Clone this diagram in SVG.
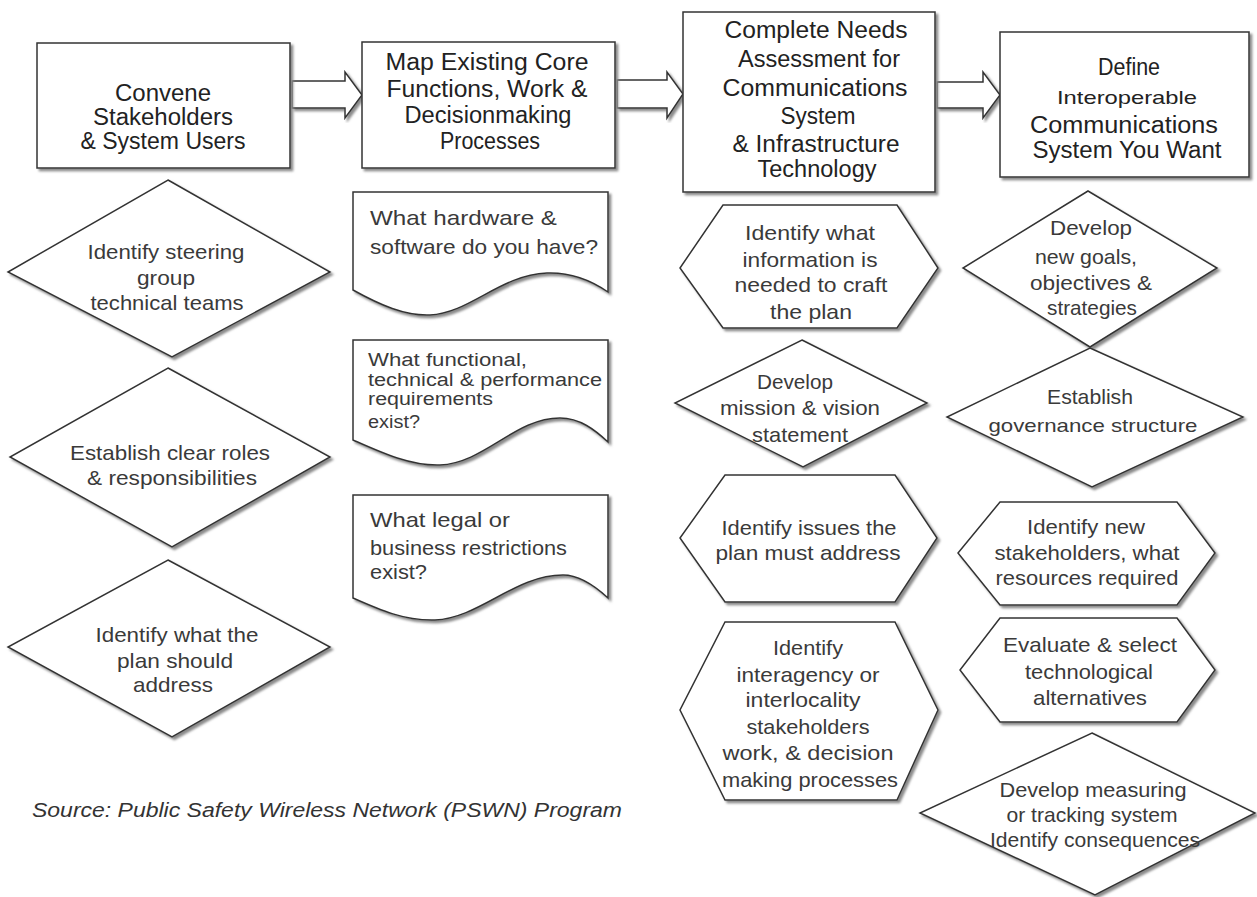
<svg xmlns="http://www.w3.org/2000/svg" width="1257" height="897" viewBox="0 0 1257 897">
<style>
.shape{fill:#fff;stroke:#333;stroke-width:1.5;stroke-linejoin:miter;filter:url(#ds)}
.arrow{fill:#fff;stroke:#333;stroke-width:1.5;filter:url(#ds)}
text{font-family:"Liberation Sans",Arial,sans-serif;fill:#2a2a2a}
.t{font-size:23px;text-anchor:middle;fill:#222}
.b{font-size:21px;text-anchor:middle;fill:#3a3a3a}
.l{font-size:21px;text-anchor:start;fill:#3a3a3a}
.s{font-size:18px;text-anchor:start;fill:#3a3a3a}
.src{font-size:20px;font-style:italic;fill:#333}
</style>
<defs>
<filter id="ds" x="-5%" y="-5%" width="115%" height="115%">
<feDropShadow dx="2.5" dy="2.5" stdDeviation="0.9" flood-color="#8a8a8a" flood-opacity="1"/>
</filter>
</defs>
<rect width="1257" height="897" fill="#fff"/>

<g id="connectors">
<polygon class="arrow" points="292,81 345,81 345,72 362,95 345,118 345,108 292,108"/>
<polygon class="arrow" points="617,80 667,80 667,72 683,94 667,118 667,108 617,108"/>
<polygon class="arrow" points="937,82 983,82 983,72 1000,95 983,118 983,108 937,108"/>
</g>

<g id="box1">
<rect class="shape" x="37" y="43" width="253" height="125"/>
<text class="t" x="163" y="101" textLength="96" lengthAdjust="spacingAndGlyphs">Convene</text>
<text class="t" x="163" y="125" textLength="140" lengthAdjust="spacingAndGlyphs">Stakeholders</text>
<text class="t" x="163" y="149" textLength="165" lengthAdjust="spacingAndGlyphs">&amp; System Users</text>
</g>

<g id="box2">
<rect class="shape" x="362" y="42" width="253" height="126"/>
<text class="t" x="487" y="70" textLength="203" lengthAdjust="spacingAndGlyphs">Map Existing Core</text>
<text class="t" x="487" y="97" textLength="201" lengthAdjust="spacingAndGlyphs">Functions, Work &amp;</text>
<text class="t" x="488" y="123" textLength="167" lengthAdjust="spacingAndGlyphs">Decisionmaking</text>
<text class="t" x="490" y="149" textLength="100" lengthAdjust="spacingAndGlyphs">Processes</text>
</g>

<g id="box3">
<rect class="shape" x="683" y="12" width="252" height="180"/>
<text class="t" x="816" y="38" textLength="183" lengthAdjust="spacingAndGlyphs">Complete Needs</text>
<text class="t" x="819" y="67" textLength="162" lengthAdjust="spacingAndGlyphs">Assessment for</text>
<text class="t" x="815" y="96" textLength="185" lengthAdjust="spacingAndGlyphs">Communications</text>
<text class="t" x="818" y="124" textLength="75" lengthAdjust="spacingAndGlyphs">System</text>
<text class="t" x="816" y="152" textLength="167" lengthAdjust="spacingAndGlyphs">&amp; Infrastructure</text>
<text class="t" x="817" y="177" textLength="119" lengthAdjust="spacingAndGlyphs">Technology</text>
</g>

<g id="box4">
<rect class="shape" x="1000" y="32" width="249" height="145"/>
<text class="t" x="1129" y="75" textLength="62" lengthAdjust="spacingAndGlyphs">Define</text>
<text class="t" x="1127" y="104" style="font-size:19px" textLength="140" lengthAdjust="spacingAndGlyphs">Interoperable</text>
<text class="t" x="1124" y="133" textLength="188" lengthAdjust="spacingAndGlyphs">Communications</text>
<text class="t" x="1127" y="158" textLength="189" lengthAdjust="spacingAndGlyphs">System You Want</text>
</g>

<g id="c1d1">
<polygon class="shape" points="168,180 330,272 172,357 8,272"/>
<text class="b" x="166" y="259" textLength="157" lengthAdjust="spacingAndGlyphs">Identify steering</text>
<text class="b" x="166" y="285" textLength="58" lengthAdjust="spacingAndGlyphs">group</text>
<text class="b" x="167" y="310" textLength="153" lengthAdjust="spacingAndGlyphs">technical teams</text>
</g>

<g id="c1d2">
<polygon class="shape" points="168,368 330,457 172,547 10,457"/>
<text class="b" x="170" y="460" textLength="200" lengthAdjust="spacingAndGlyphs">Establish clear roles</text>
<text class="b" x="172" y="485" textLength="170" lengthAdjust="spacingAndGlyphs">&amp; responsibilities</text>
</g>

<g id="c1d3">
<polygon class="shape" points="168,560 330,647 172,737 8,647"/>
<text class="b" x="177" y="642" textLength="163" lengthAdjust="spacingAndGlyphs">Identify what the</text>
<text class="b" x="175" y="668" textLength="116" lengthAdjust="spacingAndGlyphs">plan should</text>
<text class="b" x="173" y="692" textLength="80" lengthAdjust="spacingAndGlyphs">address</text>
</g>

<g id="c2doc1">
<path class="shape" d="M353,192 H608 V292 C595,283 575,272 547,273 C500,275 470,313 430,315 C405,316 380,305 353,290 Z"/>
<text class="l" x="370" y="225" textLength="187" lengthAdjust="spacingAndGlyphs">What hardware &amp;</text>
<text class="l" x="370" y="254" textLength="228" lengthAdjust="spacingAndGlyphs">software do you have?</text>
</g>

<g id="c2doc2">
<path class="shape" d="M353,340 H608 V442 C595,430 580,418 560,418 C515,418 485,463 440,465 C410,466 380,452 353,440 Z"/>
<text class="s" x="368" y="366" textLength="159" lengthAdjust="spacingAndGlyphs">What functional,</text>
<text class="s" x="368" y="386" textLength="234" lengthAdjust="spacingAndGlyphs">technical &amp; performance</text>
<text class="s" x="368" y="405" textLength="125" lengthAdjust="spacingAndGlyphs">requirements</text>
<text class="s" x="368" y="428" textLength="52" lengthAdjust="spacingAndGlyphs">exist?</text>
</g>

<g id="c2doc3">
<path class="shape" d="M353,495 H608 V598 C595,586 580,575 563,575 C515,575 480,618 435,620 C405,621 380,610 353,598 Z"/>
<text class="l" x="370" y="527" textLength="140" lengthAdjust="spacingAndGlyphs">What legal or</text>
<text class="l" x="370" y="555" textLength="197" lengthAdjust="spacingAndGlyphs">business restrictions</text>
<text class="l" x="370" y="579" textLength="57" lengthAdjust="spacingAndGlyphs">exist?</text>
</g>

<g id="c3h1">
<polygon class="shape" points="723,205 897,205 938,268 897,328 723,328 680,268"/>
<text class="b" x="810" y="240" textLength="130" lengthAdjust="spacingAndGlyphs">Identify what</text>
<text class="b" x="810" y="267" textLength="135" lengthAdjust="spacingAndGlyphs">information is</text>
<text class="b" x="811" y="292" textLength="153" lengthAdjust="spacingAndGlyphs">needed to craft</text>
<text class="b" x="811" y="319" textLength="82" lengthAdjust="spacingAndGlyphs">the plan</text>
</g>

<g id="c3d1">
<polygon class="shape" points="802,340 927,403 803,467 675,403"/>
<text class="b" x="795" y="389" textLength="76" lengthAdjust="spacingAndGlyphs">Develop</text>
<text class="b" x="800" y="415" textLength="160" lengthAdjust="spacingAndGlyphs">mission &amp; vision</text>
<text class="b" x="800" y="442" textLength="96" lengthAdjust="spacingAndGlyphs">statement</text>
</g>

<g id="c3h2">
<polygon class="shape" points="725,475 895,475 937,538 895,602 725,602 680,538"/>
<text class="b" x="809" y="535" textLength="175" lengthAdjust="spacingAndGlyphs">Identify issues the</text>
<text class="b" x="808" y="560" textLength="185" lengthAdjust="spacingAndGlyphs">plan must address</text>
</g>

<g id="c3h3">
<polygon class="shape" points="725,622 895,622 938,710 897,800 725,800 680,710"/>
<text class="b" x="808" y="655" textLength="70" lengthAdjust="spacingAndGlyphs">Identify</text>
<text class="b" x="808" y="682" textLength="143" lengthAdjust="spacingAndGlyphs">interagency or</text>
<text class="b" x="803" y="707" textLength="115" lengthAdjust="spacingAndGlyphs">interlocality</text>
<text class="b" x="808" y="734" textLength="123" lengthAdjust="spacingAndGlyphs">stakeholders</text>
<text class="b" x="808" y="760" textLength="171" lengthAdjust="spacingAndGlyphs">work, &amp; decision</text>
<text class="b" x="810" y="787" textLength="176" lengthAdjust="spacingAndGlyphs">making processes</text>
</g>

<g id="c4d1">
<polygon class="shape" points="1088,191 1217,268 1090,347 963,268"/>
<text class="b" x="1091" y="235" textLength="82" lengthAdjust="spacingAndGlyphs">Develop</text>
<text class="b" x="1086" y="264" textLength="102" lengthAdjust="spacingAndGlyphs">new goals,</text>
<text class="b" x="1091" y="290" textLength="122" lengthAdjust="spacingAndGlyphs">objectives &amp;</text>
<text class="b" x="1092" y="315" textLength="90" lengthAdjust="spacingAndGlyphs">strategies</text>
</g>

<g id="c4d2">
<polygon class="shape" points="1090,348 1243,417 1092,487 947,417"/>
<text class="b" x="1090" y="404" textLength="86" lengthAdjust="spacingAndGlyphs">Establish</text>
<text class="b" x="1093" y="432" style="font-size:19px" textLength="209" lengthAdjust="spacingAndGlyphs">governance structure</text>
</g>

<g id="c4h1">
<polygon class="shape" points="1000,502 1177,502 1215,553 1177,605 1000,605 958,553"/>
<text class="b" x="1086" y="534" textLength="118" lengthAdjust="spacingAndGlyphs">Identify new</text>
<text class="b" x="1087" y="560" textLength="185" lengthAdjust="spacingAndGlyphs">stakeholders, what</text>
<text class="b" x="1087" y="585" textLength="183" lengthAdjust="spacingAndGlyphs">resources required</text>
</g>

<g id="c4h2">
<polygon class="shape" points="1000,618 1177,618 1215,670 1177,722 1000,722 960,670"/>
<text class="b" x="1090" y="652" textLength="174" lengthAdjust="spacingAndGlyphs">Evaluate &amp; select</text>
<text class="b" x="1089" y="679" textLength="128" lengthAdjust="spacingAndGlyphs">technological</text>
<text class="b" x="1090" y="705" textLength="114" lengthAdjust="spacingAndGlyphs">alternatives</text>
</g>

<g id="c4d3">
<polygon class="shape" points="1092,733 1255,813 1095,895 920,813"/>
<text class="b" x="1093" y="797" textLength="187" lengthAdjust="spacingAndGlyphs">Develop measuring</text>
<text class="b" x="1092" y="822" textLength="171" lengthAdjust="spacingAndGlyphs">or tracking system</text>
<text class="b" x="1095" y="847" textLength="210" lengthAdjust="spacingAndGlyphs">Identify consequences</text>
</g>

<g id="source">
<text class="src" x="32" y="817" textLength="590" lengthAdjust="spacingAndGlyphs">Source: Public Safety Wireless Network (PSWN) Program</text>
</g>
</svg>
